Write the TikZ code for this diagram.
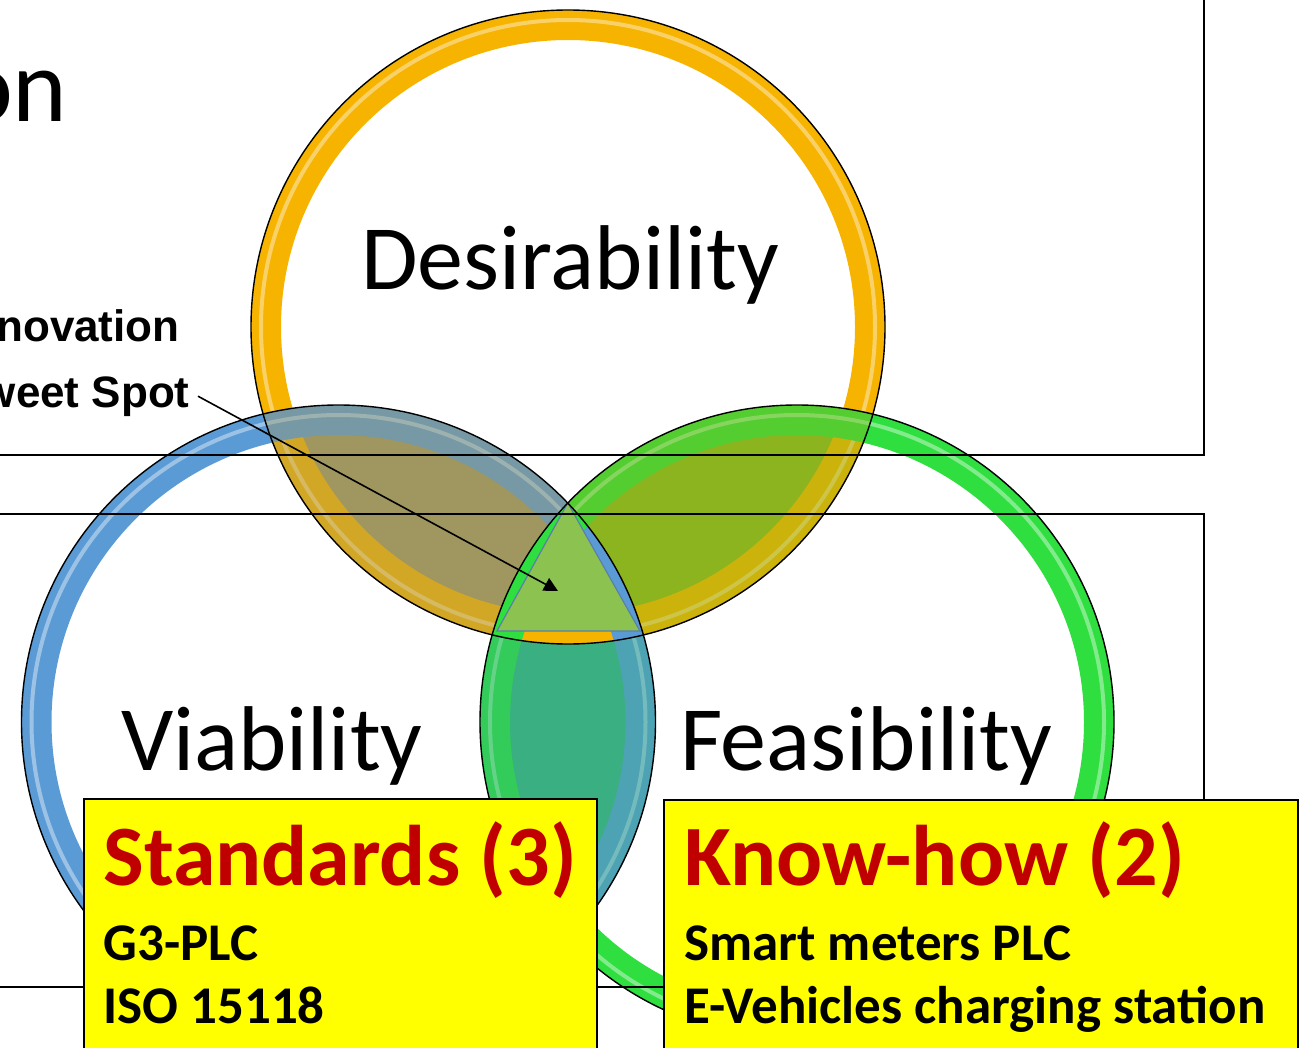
\documentclass[tikz,border=0pt]{standalone}
\usepackage{fontspec}
\setmainfont{Carlito}
\newfontfamily\spotfont{Liberation Sans}
\usetikzlibrary{arrows.meta}
\definecolor{ringO}{HTML}{F6B300}
\definecolor{ringB}{HTML}{5B9BD5}
\definecolor{ringG}{HTML}{2FDE3F}
\definecolor{lensDV}{HTML}{A0965F}
\definecolor{lensDF}{HTML}{8CB41E}
\definecolor{lensVF}{HTML}{3AAF82}
\definecolor{centerG}{HTML}{8CC350}
\definecolor{triEdge}{HTML}{5C7FA8}
\definecolor{darkred}{HTML}{C00000}
\definecolor{boxyellow}{HTML}{FFFF00}
\begin{document}
\begin{tikzpicture}[x=0.5pt,y=-0.5pt,
  bigword/.style={font=\fontsize{46}{52}\selectfont, inner sep=0pt},
  spotlabel/.style={font=\spotfont\bfseries\fontsize{22}{26}\selectfont, inner sep=0pt},
  ybox/.style={draw=black, line width=1pt, fill=boxyellow, inner sep=0pt, anchor=north west},
  headtext/.style={font=\bfseries\fontsize{43}{48}\selectfont, text=darkred, inner sep=0pt, anchor=base west},
  itemtext/.style={font=\bfseries\fontsize{26.5}{30}\selectfont, inner sep=0pt, anchor=base west},
  frameline/.style={line width=1.1pt, draw=black},
  ringstroke/.style={line width=15pt},
  ringshine/.style={white, opacity=0.4, line width=2pt}]
\useasboundingbox (0,0) rectangle (1312,1048);
\fill[white] (0,0) rectangle (1312,1048);
\coordinate (cD) at (568,327);
\coordinate (cV) at (338.5,722);
\coordinate (cF) at (797,722);
% lens fills
\begin{scope}\clip (cD) circle[radius=158.5pt]; \fill[lensDV] (cV) circle[radius=158.5pt];\end{scope}
\begin{scope}\clip (cD) circle[radius=158.5pt]; \fill[lensDF] (cF) circle[radius=158.5pt];\end{scope}
\begin{scope}\clip (cV) circle[radius=158.5pt]; \fill[lensVF] (cF) circle[radius=158.5pt];\end{scope}
% rings
\foreach \c/\col in {cD/ringO, cV/ringB, cF/ringG} {
  \draw[\col, ringstroke] (\c) circle[radius=151pt];
  \draw[ringshine] (\c) circle[radius=153.5pt];
}
% soften rings inside lenses
\begin{scope}\clip (cD) circle[radius=158.5pt]; \fill[lensDV, opacity=0.4] (cV) circle[radius=158.5pt];\end{scope}
\begin{scope}\clip (cD) circle[radius=158.5pt]; \fill[lensDF, opacity=0.4] (cF) circle[radius=158.5pt];\end{scope}
\begin{scope}\clip (cV) circle[radius=158.5pt]; \fill[lensVF, opacity=0.4] (cF) circle[radius=158.5pt];\end{scope}
% pure rings in the triple region
\begin{scope}
  \clip (cD) circle[radius=158.5pt];
  \clip (cV) circle[radius=158.5pt];
  \clip (cF) circle[radius=158.5pt];
  \fill[centerG] (cD) circle[radius=200pt];
  \foreach \c/\col in {cD/ringO, cV/ringB, cF/ringG} {
    \draw[\col, ringstroke] (\c) circle[radius=151pt];
  }
\end{scope}
% centre
\coordinate (tA) at (567.75,503);
\coordinate (tL) at (497,631);
\coordinate (tR) at (640,631);
\filldraw[fill=centerG, draw=triEdge, line width=0.6pt] (tA) -- (tL) -- (tR) -- cycle;
% outlines
\foreach \c in {cD,cV,cF} \draw[black, line width=0.7pt] (\c) circle[radius=158.5pt];
% frames
\draw[frameline] (-20,-20) rectangle (1204,455);
\draw[frameline] (-20,514) rectangle (1204,987);
% labels
\node[bigword, anchor=base] (des) at (570,290) {Desirability};
\node[bigword, anchor=base] (via) at (272,770) {Viability};
\node[bigword, anchor=base] (fea) at (866,770) {Feasibility};
\node[font=\fontsize{52}{60}\selectfont, inner sep=0pt, anchor=base east] (title) at (68,122) {on};
\node[spotlabel, anchor=base east] (inno) at (180,342) {novation};
\node[spotlabel, anchor=base east] (spot) at (190,407) {weet Spot};
\coordinate (sweet) at (558,591);
\draw[line width=0.8pt, -{Triangle[length=7pt,width=7pt]}] ([xshift=4pt]spot.east) -- (sweet);
% yellow boxes
\node[ybox, minimum width=256.5pt, minimum height=135pt] (stdbox) at (83,798) {};
\node[ybox, minimum width=317pt, minimum height=135pt] (khbox) at (663,799) {};
\node[headtext] (stdhead) at (103,885) {Standards (3)};
\node[itemtext] (std1) at (103,960) {G3-PLC};
\node[itemtext] (std2) at (103,1023) {ISO 15118};
\node[headtext] (khhead) at (684,885) {Know-how (2)};
\node[itemtext] (kh1) at (684,960) {Smart meters PLC};
\node[itemtext] (kh2) at (684,1023) {E-Vehicles charging station};
\end{tikzpicture}
\end{document}
